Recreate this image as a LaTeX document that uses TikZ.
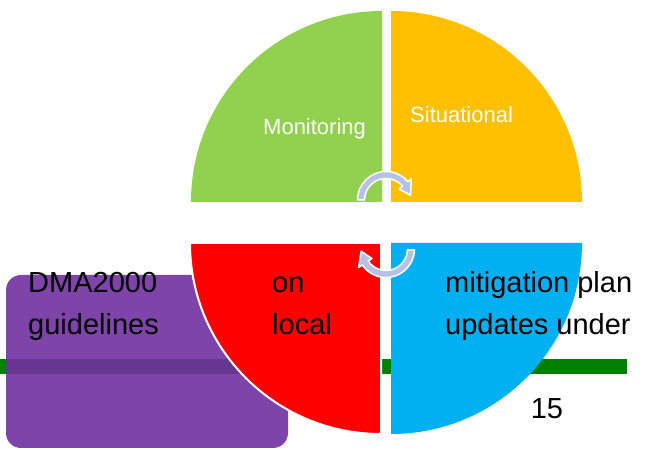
\documentclass[tikz,border=0pt]{standalone}
\usepackage{fontspec}
\setmainfont{Liberation Sans}

\definecolor{quadgreen}{HTML}{92D050}
\definecolor{quadyellow}{HTML}{FFC000}
\definecolor{quadred}{HTML}{FF0000}
\definecolor{quadcyan}{HTML}{00B0F0}
\definecolor{boxpurple}{HTML}{7030A0}
\definecolor{bargreen}{HTML}{008000}
\definecolor{cyclearrow}{RGB}{183,193,229}

\begin{document}
\begin{tikzpicture}[x=1pt,y=1pt,
      bigtext/.style={font=\fontsize{29}{31}\selectfont,anchor=base west,inner sep=0pt},
      quadtext/.style={font=\fontsize{22}{24}\selectfont,text=white,anchor=base west,inner sep=0pt},
      cyclefill/.style={fill=cyclearrow,draw=white,line width=1.5pt,line join=round}]
            \useasboundingbox (0,0) rectangle (649,450);

            \fill [bargreen] 
               (0,76) rectangle (627,91);
            \fill [boxpurple,opacity=0.9,rounded corners=15pt] 
               (6,2) rectangle (288,175);

            % the four quarters
            \fill [quadgreen] 
               (382,248) -- (191,248) arc[start angle=180,end angle=90,radius=191] -- cycle;
            \fill [quadyellow] 
               (391,248) -- (391,439) arc[start angle=90,end angle=0,radius=191] -- cycle;
            \filldraw [fill=quadred,draw=white,line width=2pt] 
               (381,207) -- (190,207) arc[start angle=180,end angle=270,radius=191] -- cycle;
            \fill [quadcyan] 
               (391,207) -- (391,16) arc[start angle=270,end angle=360,radius=191] -- cycle;

            \begin{scope}[shift={(386,250)}]
               \filldraw [cyclefill] 
                  (180:28.5) arc[start angle=180,end angle=40,radius=28.5] -- (40:33) -- (11:25) 
                  -- (40:17) -- (40:21.5) arc[start angle=40,end angle=180,radius=21.5] -- cycle;
            \end{scope}
            \begin{scope}[shift={(386,201)}]
               \filldraw [cyclefill] 
                  (-2:28.5) arc[start angle=-2,end angle=-146,radius=28.5] -- (-146:33) -- (-175:25) 
                  -- (-146:17) -- (-146:21.5) arc[start angle=-146,end angle=-2,radius=21.5] -- cycle;
            \end{scope}

            \node [quadtext] (monitoring) at (263,315) {Monitoring};
            \node [quadtext] (situational) at (410,327) {Situational};

            \node [bigtext] (dma) at (28,157) {DMA2000};
            \node [bigtext] (guide) at (28,115) {guidelines};
            \node [bigtext] (on) at (272,157) {on};
            \node [bigtext] (local) at (272,115) {local};
            \node [bigtext] (mitig) at (445,157) {mitigation plan};
            \node [bigtext] (updates) at (445,115) {updates under};
            \node [bigtext,anchor=base] (page) at (547,31) {15};
         \end{tikzpicture}
\end{document}
